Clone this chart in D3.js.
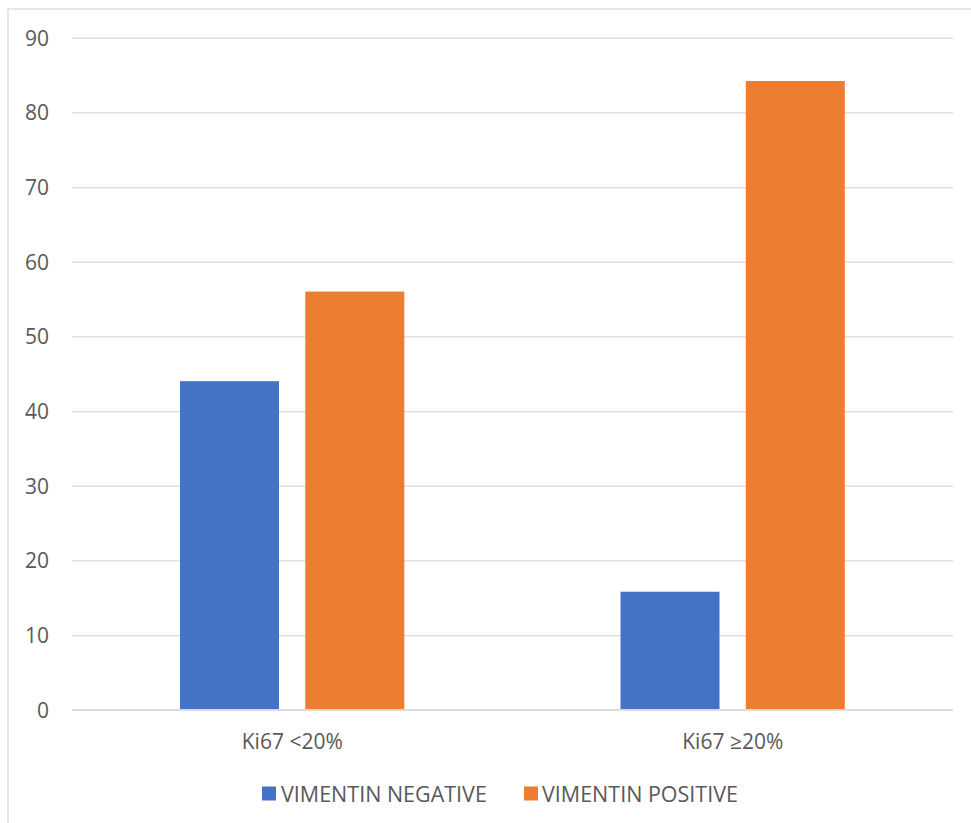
<!DOCTYPE html>
<html>
<head>
<meta charset="utf-8">
<script src="https://cdn.jsdelivr.net/npm/d3@7"></script>
<style>
  html, body { margin: 0; padding: 0; background: #fff; }
  svg { display: block; }
  text { font-family: "Open Sans", "Noto Sans", sans-serif; fill: #595959; }
</style>
</head>
<body>
<svg id="chart" width="971" height="823"></svg>
<script>
const categories = ["Ki67 <20%", "Ki67 \u226520%"];
const seriesNames = ["VIMENTIN NEGATIVE", "VIMENTIN POSITIVE"];
const vimentinNegative = [44, 15.8];
const vimentinPositive = [56, 84.2];
const yTicks = [0, 10, 20, 30, 40, 50, 60, 70, 80, 90];
const seriesColors = ["#4472C4", "#ED7D31"];

const seriesValues = [vimentinNegative, vimentinPositive];
const rows = categories.map((c, i) => ({
  category: c,
  values: seriesNames.map((s, j) => ({ series: s, value: seriesValues[j][i] }))
}));

const svg = d3.select("#chart");
const plot = { left: 72, right: 953, top: 37.7, bottom: 709.7 };

// chart border
svg.append("rect")
  .attr("x", 8).attr("y", 9)
  .attr("width", 1000).attr("height", 900)
  .attr("fill", "none").attr("stroke", "#d9d9d9").attr("stroke-width", 1.3);

const y = d3.scaleLinear().domain([0, 90]).range([plot.bottom, plot.top]);
const x0 = d3.scaleBand().domain(categories).range([plot.left, plot.right]).padding(0);
const groupStart = 108, groupWidth = 224.3;
const x1 = d3.scaleBand().domain(seriesNames).range([groupStart, groupStart + groupWidth]).paddingInner(0.21).paddingOuter(0);
const color = d3.scaleOrdinal().domain(seriesNames).range(seriesColors);

// gridlines via axis
const grid = svg.append("g")
  .attr("transform", `translate(${plot.left},0)`)
  .call(d3.axisRight(y).tickValues(yTicks).tickSize(plot.right - plot.left).tickFormat(""));
grid.select(".domain").remove();
grid.selectAll("line").attr("stroke", "#d9d9d9").attr("stroke-width", 1.3);

// y tick labels
const yAxis = svg.append("g")
  .attr("transform", `translate(49,0)`)
  .call(d3.axisLeft(y).tickValues(yTicks).tickSize(0).tickPadding(0));
yAxis.select(".domain").remove();
yAxis.selectAll("text")
  .style("font-size", "21px")
  .attr("dy", "0.36em")
  .attr("fill", "#595959");

// bars
const groups = svg.append("g").selectAll("g")
  .data(rows).join("g")
  .attr("transform", d => `translate(${x0(d.category)},0)`);
groups.selectAll("rect")
  .data(d => d.values).join("rect")
  .attr("x", d => x1(d.series))
  .attr("width", x1.bandwidth())
  .attr("y", d => y(d.value))
  .attr("height", d => y(0) - y(d.value))
  .attr("fill", d => color(d.series));

// x axis line
svg.append("line")
  .attr("x1", plot.left).attr("x2", plot.right)
  .attr("y1", y(0)).attr("y2", y(0))
  .attr("stroke", "#d9d9d9").attr("stroke-width", 1.5);

// category labels
const xAxis = svg.append("g")
  .attr("transform", `translate(0,${plot.bottom})`)
  .call(d3.axisBottom(x0).tickSize(0).tickPadding(0));
xAxis.select(".domain").remove();
xAxis.selectAll("text")
  .attr("dy", null)
  .attr("y", 39.5)
  .style("font-size", "21px")
  .attr("fill", "#595959");

// legend
const legendItems = [
  { name: seriesNames[0], sx: 262, tx: 281 },
  { name: seriesNames[1], sx: 524, tx: 542 }
];
const lg = svg.append("g").selectAll("g").data(legendItems).join("g");
lg.append("rect")
  .attr("x", d => d.sx).attr("y", 786.5)
  .attr("width", 14).attr("height", 14)
  .attr("fill", d => color(d.name));
lg.append("text")
  .attr("x", d => d.tx).attr("y", 801.5)
  .style("font-size", "21.5px")
  .text(d => d.name);
</script>
</body>
</html>
